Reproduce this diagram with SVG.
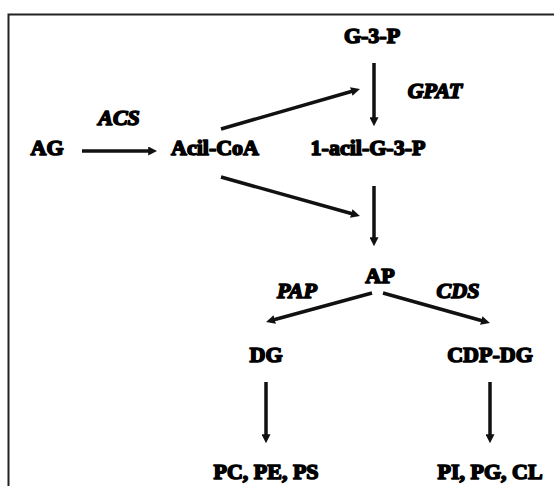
<svg xmlns="http://www.w3.org/2000/svg" width="554" height="486" viewBox="0 0 554 486">
<defs>
<marker id="ah" viewBox="0 0 10 10" refX="2" refY="5" markerWidth="9" markerHeight="9" markerUnits="userSpaceOnUse" orient="auto">
<path d="M0,0 L10,5 L0,10 Z" fill="#111"/>
</marker>
<style>
.t{font-family:"Liberation Serif","Times New Roman",serif;font-weight:bold;font-size:22px;fill:#000;stroke:#000;stroke-width:1.6;stroke-linejoin:round;text-anchor:middle}
.e{font-style:italic}
.c{stroke:#111;stroke-width:3.5;fill:none;marker-end:url(#ah)}
</style>
</defs>
<rect x="8.5" y="14.5" width="560" height="490" fill="#fff" stroke="#222" stroke-width="2"/>
<g id="connectors">
<line class="c" x1="82" y1="151" x2="150" y2="151"/>
<line class="c" x1="221" y1="129" x2="353" y2="91"/>
<line class="c" x1="221" y1="177" x2="353" y2="214"/>
<line class="c" x1="374" y1="63" x2="374" y2="119"/>
<line class="c" x1="374" y1="186" x2="374" y2="239"/>
<line class="c" x1="372" y1="293" x2="273" y2="320"/>
<line class="c" x1="383" y1="293" x2="483" y2="321"/>
<line class="c" x1="266" y1="382" x2="266" y2="436"/>
<line class="c" x1="490" y1="382" x2="490" y2="436"/>
</g>
<g id="G3P"><text class="t" x="372" y="43">G-3-P</text></g>
<g id="GPAT"><text class="t e" x="435" y="98">GPAT</text></g>
<g id="ACS"><text class="t e" x="119" y="125">ACS</text></g>
<g id="AG"><text class="t" x="47" y="155">AG</text></g>
<g id="AcilCoA"><text class="t" x="215" y="155">Acil-CoA</text></g>
<g id="acilG3P"><text class="t" x="368" y="155">1-acil-G-3-P</text></g>
<g id="AP"><text class="t" x="380" y="283">AP</text></g>
<g id="PAP"><text class="t e" x="297" y="298">PAP</text></g>
<g id="CDS"><text class="t e" x="458" y="298">CDS</text></g>
<g id="DG"><text class="t" x="266" y="362">DG</text></g>
<g id="CDPDG"><text class="t" x="490" y="362">CDP-DG</text></g>
<g id="PCPEPS"><text class="t" x="266" y="479">PC, PE, PS</text></g>
<g id="PIPGCL"><text class="t" x="490" y="479">PI, PG, CL</text></g>
</svg>
